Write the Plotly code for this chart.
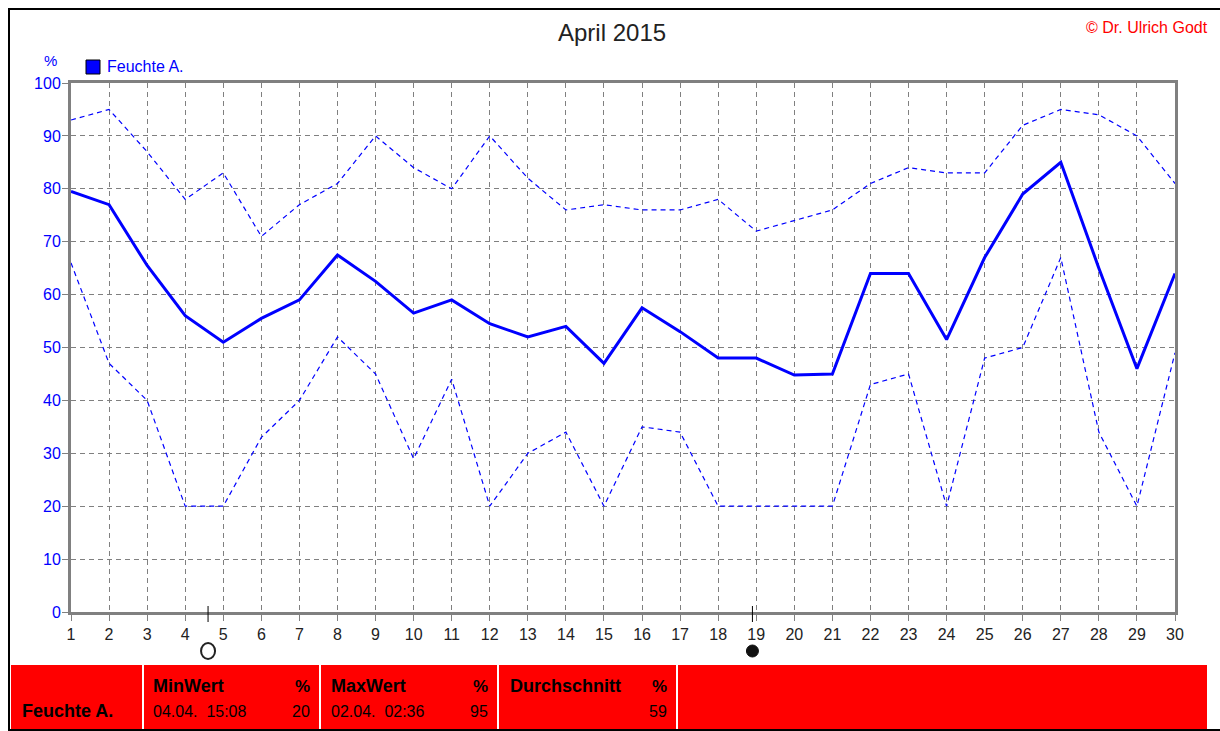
import plotly.graph_objects as go

W, H = 1220, 731
L, R, T, B = 71, 1175, 83, 612

days = list(range(1, 31))
mean_vals = [79.5,77,65.5,56,51,55.5,59,67.5,62.5,56.5,59,54.5,52,54,47,57.5,53,48,48,44.8,45,64,64,51.5,67,79,85,65,46,64]
max_vals = [93,95,87,78,83,71,77,81,90,84,80,90,82,76,77,76,76,78,72,74,76,81,84,83,83,92,95,94,90,81]
min_vals = [66,47,40,20,20,33,40,52,45,29,44,20,30,34,20,35,34,20,20,20,20,43,45,20,48,50,67,34,20,49]
y_ticks = list(range(0, 101, 10))
full_moon_x = 4.6
new_moon_x = 18.9
BLUE = "#0000ff"
GRAY = "#808080"
FONT = "Liberation Sans"


def px(x):
    return (x - L) / (R - L)


def py(y):
    return (B - y) / (B - T)


fig = go.Figure()
fig.add_trace(go.Scatter(x=days, y=max_vals, mode="lines", line=dict(color=BLUE, width=1.2, dash="5px,4px"), showlegend=False))
fig.add_trace(go.Scatter(x=days, y=min_vals, mode="lines", line=dict(color=BLUE, width=1.2, dash="5px,4px"), showlegend=False))
fig.add_trace(go.Scatter(x=days, y=mean_vals, mode="lines", line=dict(color=BLUE, width=3), showlegend=False))

shapes = []
# outer frame
for x0, y0, x1, y1 in [(8, 8, 10, 731), (8, 8, 1220, 10), (8, 729, 1220, 731)]:
    shapes.append(dict(type="rect", xref="paper", yref="paper", x0=px(x0), x1=px(x1), y0=py(y0), y1=py(y1),
                       fillcolor="#000000", line_width=0, layer="above"))
# red table cells
for x0, x1 in [(11, 142), (144, 319), (321, 497), (499, 676), (678, 1207)]:
    shapes.append(dict(type="rect", xref="paper", yref="paper", x0=px(x0), x1=px(x1), y0=py(665), y1=py(729),
                       fillcolor="#ff0000", line_width=0, layer="below"))
# legend swatch
shapes.append(dict(type="rect", xref="paper", yref="paper", x0=px(86), x1=px(100), y0=py(60), y1=py(74),
                   fillcolor=BLUE, line=dict(color="#000000", width=1)))
# moon phases
for mx in (full_moon_x, new_moon_x):
    shapes.append(dict(type="line", xref="x", yref="paper", x0=mx, x1=mx, y0=py(606), y1=py(622),
                       line=dict(color="#000000", width=1), layer="above"))
shapes.append(dict(type="circle", xref="x", yref="paper", xsizemode="pixel", xanchor=full_moon_x, x0=-7, x1=7,
                   y0=py(643), y1=py(659), fillcolor="#ffffff", line=dict(color="#222222", width=2)))
shapes.append(dict(type="circle", xref="x", yref="paper", xsizemode="pixel", xanchor=new_moon_x, x0=-6, x1=6,
                   y0=py(645), y1=py(657), fillcolor="#111111", line=dict(color="#111111", width=1)))


def note(text, x, y, size=14, color="#000000", anchor="left", bold=False):
    shift = {"left": -2, "right": 2, "center": 0}[anchor]
    return dict(text=f"<b>{text}</b>" if bold else text, xref="paper", yref="paper", x=px(x), y=py(y), showarrow=False,
                xanchor=anchor, yanchor="middle", xshift=shift, font=dict(family=FONT, size=size, color=color))


annotations = [
    note("April 2015", 612, 33, 24, "#222222", "center"),
    note("© Dr. Ulrich Godt", 1208, 28, 16, "#ff0000", "right"),
    note("%", 50, 60, 15, BLUE, "center"),
    note("Feuchte A.", 107, 67, 16, BLUE),
    note("Feuchte A.", 22, 711, 18, bold=True),
    note("MinWert", 153, 686, 18, bold=True),
    note("%", 310, 686, 17, anchor="right", bold=True),
    note("04.04.  15:08", 153, 711, 16),
    note("20", 310, 711, 16, anchor="right"),
    note("MaxWert", 331, 686, 18, bold=True),
    note("%", 488, 686, 17, anchor="right", bold=True),
    note("02.04.  02:36", 331, 711, 16),
    note("95", 488, 711, 16, anchor="right"),
    note("Durchschnitt", 510, 686, 18, bold=True),
    note("%", 667, 686, 17, anchor="right", bold=True),
    note("59", 667, 711, 16, anchor="right"),
]

fig.update_layout(
    width=W, height=H, autosize=False,
    margin=dict(l=L, r=W - R, t=T, b=H - B, pad=0),
    paper_bgcolor="#ffffff", plot_bgcolor="#ffffff",
    showlegend=False, shapes=shapes, annotations=annotations,
    xaxis=dict(range=[1, 30], tickmode="array", tickvals=days, ticktext=[str(d) for d in days],
               showgrid=True, gridcolor=GRAY, griddash="5px,4px", gridwidth=1.3,
               showline=True, linecolor=GRAY, linewidth=3, mirror=True,
               ticks="outside", ticklen=6, tickcolor=GRAY, tickwidth=1, zeroline=False,
               tickfont=dict(family=FONT, size=16, color="#222222")),
    yaxis=dict(range=[0, 100], tickmode="array", tickvals=y_ticks,
               showgrid=True, gridcolor=GRAY, griddash="5px,4px", gridwidth=1.3,
               showline=True, linecolor=GRAY, linewidth=3, mirror=True,
               ticks="outside", ticklen=6, tickcolor=GRAY, tickwidth=1, zeroline=False,
               ticklabelstandoff=-2,
               tickfont=dict(family=FONT, size=16, color=BLUE)),
)

fig.write_html("out.html", config=dict(displayModeBar=False),
               post_script="document.body.style.margin='0';document.body.style.overflow='hidden';window.dispatchEvent(new Event('resize'));")
